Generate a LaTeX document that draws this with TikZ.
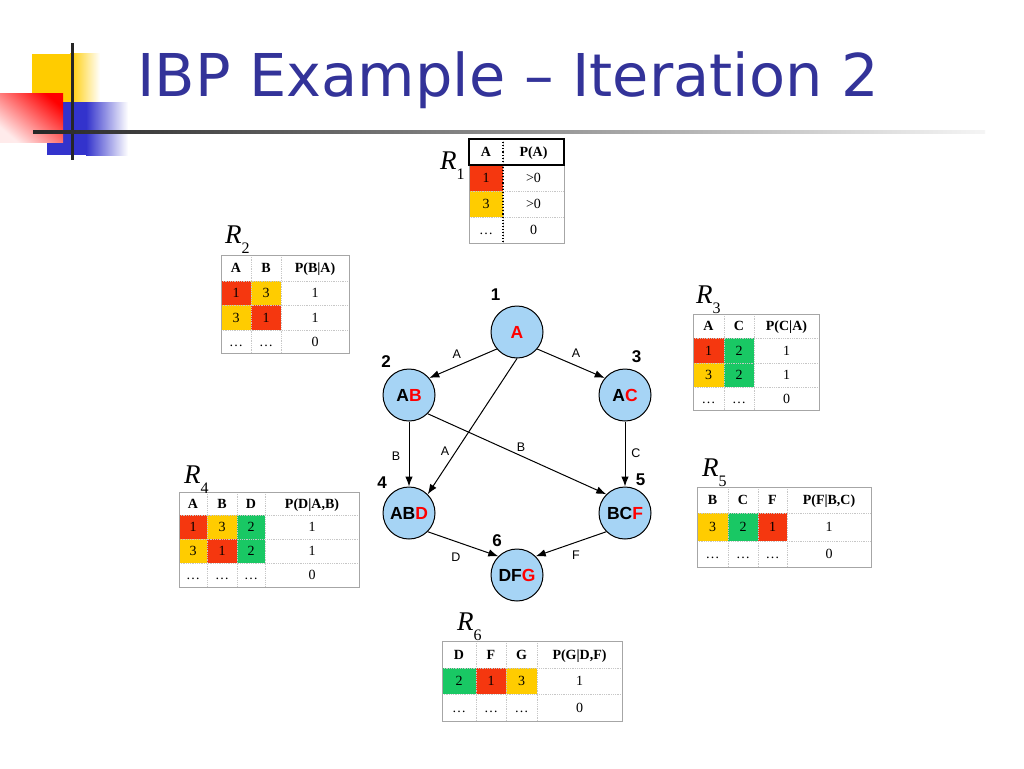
\documentclass[tikz,border=0pt]{standalone}
\usepackage{fontspec}
\setmainfont{Liberation Serif}
\setsansfont{Liberation Sans}
\newfontfamily\titlefont{DejaVu Sans}
\usepackage{tikz}
\usetikzlibrary{arrows.meta}
\definecolor{titleblue}{RGB}{51,51,153}
\definecolor{valred}{RGB}{245,55,15}
\definecolor{valyellow}{RGB}{255,204,0}
\definecolor{valgreen}{RGB}{25,200,100}
\definecolor{nodeblue}{RGB}{166,212,245}
\definecolor{logoblue}{RGB}{51,51,204}
\definecolor{logoyellow}{RGB}{255,204,0}
\tikzset{
  tabframe/.style={draw=black!35, line width=0.9pt},
  hdrframe/.style={draw=black, line width=1.3pt},
  cellline/.style={draw=black!22, densely dotted, line width=0.8pt},
  keyline/.style={draw=black, dotted, line width=1.1pt},
  redc/.style={fill=valred},        % value 1
  yelc/.style={fill=valyellow},     % value 3
  grnc/.style={fill=valgreen},      % value 2
  hdr/.style={font=\fontsize{14}{14}\selectfont\bfseries, inner sep=0pt, text height=9.5pt, text depth=0pt},
  val/.style={font=\fontsize{14}{14}\selectfont, inner sep=0pt, text height=9.5pt, text depth=0pt},
  relname/.style={anchor=base west, inner sep=0pt, font=\fontsize{27}{27}\selectfont},
  factor/.style={circle, draw, line width=1pt, fill=nodeblue, minimum size=52pt,
    inner sep=0pt, font=\sffamily\bfseries\fontsize{17.5}{17.5}\selectfont},
  stepnum/.style={font=\sffamily\bfseries\fontsize{17}{17}\selectfont, inner sep=0pt},
  edgelbl/.style={font=\sffamily\fontsize{12.5}{12.5}\selectfont, inner sep=0pt},
  msg/.style={-{Latex[length=10pt,width=7.5pt]}, line width=1pt}
}
\newcommand{\RelName}[1]{\textit{R}\raisebox{-10pt}{\fontsize{16}{16}\selectfont #1}}
\newcommand{\Hl}[1]{\textcolor{red}{#1}}
\newcommand{\FillCells}[2]{% #1=style, #2="x1/y1/x2/y2,..."
  \foreach \xa/\ya/\xb/\yb in {#2}{%
    \path[#1] (\xa,\ya) rectangle (\xb,\yb);
  }%
}
\newcommand{\TabGrid}[6]{% #1=left, #2=top, #3=right, #4=bottom, #5=inner cols, #6=inner rows
  \foreach \c in {#5}{\draw[cellline] (\c,#2) -- (\c,#4);}%
  \foreach \r in {#6}{\draw[cellline] (#1,\r) -- (#3,\r);}%
  \draw[tabframe] (#1,#2) rectangle (#3,#4);
}
\newcommand{\TabText}[3]{% #1=name prefix, #2=style, #3="x/y/text,..."
  \foreach \x/\y/\t [count=\k] in {#3}{%
    \node[#2] (#1\k) at (\x,\y) {\t};
  }%
}

\begin{document}
\begin{tikzpicture}[x=1pt, y=-1pt]
  \useasboundingbox (0,0) rectangle (1024,768);
  \fill[white] (0,0) rectangle (1024,768);
  % Logo
  \fill[logoyellow] (32,54) rectangle (70,102);
  \shade[left color=logoyellow, right color=white] (70,54) rectangle (100,102);
  \fill[logoblue] (47,102) rectangle (86,155);
  \shade[left color=logoblue, right color=white] (86,102) rectangle (128,155);
  \shade[shading=axis, top color=red, bottom color=red!8, shading angle=-40] (0,93) rectangle (63,142);
  \fill[black!85] (70.5,43) rectangle (73.5,160);
  \shade[left color=black!85, right color=black!4] (33,130.5) rectangle (985,133.5);
  % Title
  \node[anchor=base west, inner sep=0pt, text=titleblue, font=\titlefont\fontsize{59}{59}\selectfont] (title) at (137,96) {IBP Example – Iteration 2};

  % R1
  \FillCells{redc}{469/165/503/191}
  \FillCells{yelc}{469/191/503/217}
  \TabGrid{469}{139}{564}{243}{503}{191,217}
  \draw[keyline] (503,139) -- (503,243);
  \draw[hdrframe] (469,139) rectangle (564,165);
  \TabText{ra}{hdr}{486/152/A, 533.5/152/P(A)}
  \TabText{rav}{val}{486/178/1, 533.5/178/>0, 486/204/3, 533.5/204/>0, 486/230/\dots, 533.5/230/0}
  \node[relname] (lra) at (440,169) {\RelName{1}};

  % R2
  \FillCells{redc}{221/281/251/305, 251/305/281/330}
  \FillCells{yelc}{251/281/281/305, 221/305/251/330}
  \TabGrid{221}{255}{349}{353}{251,281}{281,305,330}
  \TabText{rb}{hdr}{236/268/A, 266/268/B, 315/268/P(B|A)}
  \TabText{rbv}{val}{236/293/1, 266/293/3, 315/293/1, 236/317.5/3, 266/317.5/1, 315/317.5/1, 236/341.5/\dots, 266/341.5/\dots, 315/341.5/0}
  \node[relname] (lrb) at (225,243) {\RelName{2}};

  % R3
  \FillCells{redc}{693/338/724/363}
  \FillCells{yelc}{693/363/724/387}
  \FillCells{grnc}{724/338/754/363, 724/363/754/387}
  \TabGrid{693}{314}{819}{410}{724,754}{338,363,387}
  \TabText{rc}{hdr}{708.5/326/A, 739/326/C, 786.5/326/P(C|A)}
  \TabText{rcv}{val}{708.5/350.5/1, 739/350.5/2, 786.5/350.5/1, 708.5/375/3, 739/375/2, 786.5/375/1, 708.5/398.5/\dots, 739/398.5/\dots, 786.5/398.5/0}
  \node[relname] (lrc) at (696,303) {\RelName{3}};

  % R4
  \FillCells{redc}{179/515/207/539, 207/539/237/563}
  \FillCells{yelc}{207/515/237/539, 179/539/207/563}
  \FillCells{grnc}{237/515/265/539, 237/539/265/563}
  \TabGrid{179}{492}{359}{587}{207,237,265}{515,539,563}
  \TabText{rd}{hdr}{193/503.5/A, 222/503.5/B, 251/503.5/D, {312/503.5/P(D|A,B)}}
  \TabText{rdv}{val}{193/527/1, 222/527/3, 251/527/2, 312/527/1, 193/551/3, 222/551/1, 251/551/2, 312/551/1, 193/575/\dots, 222/575/\dots, 251/575/\dots, 312/575/0}
  \node[relname] (lrd) at (184,483) {\RelName{4}};

  % R5
  \FillCells{yelc}{697/513/728/541}
  \FillCells{grnc}{728/513/758/541}
  \FillCells{redc}{758/513/787/541}
  \TabGrid{697}{487}{871}{567}{728,758,787}{513,541}
  \TabText{re}{hdr}{712.5/500/B, 743/500/C, 772.5/500/F, {829/500/P(F|B,C)}}
  \TabText{rev}{val}{712.5/527/3, 743/527/2, 772.5/527/1, 829/527/1, 712.5/554/\dots, 743/554/\dots, 772.5/554/\dots, 829/554/0}
  \node[relname] (lre) at (702,476) {\RelName{5}};

  % R6
  \FillCells{grnc}{442/668/476/694}
  \FillCells{redc}{476/668/506/694}
  \FillCells{yelc}{506/668/537/694}
  \TabGrid{442}{641}{622}{721}{476,506,537}{668,694}
  \TabText{rf}{hdr}{459/654.5/D, 491/654.5/F, 521.5/654.5/G, {579.5/654.5/P(G|D,F)}}
  \TabText{rfv}{val}{459/681/2, 491/681/1, 521.5/681/3, 579.5/681/1, 459/707.5/\dots, 491/707.5/\dots, 521.5/707.5/\dots, 579.5/707.5/0}
  \node[relname] (lrf) at (457,630) {\RelName{6}};

  % Graph
  \node[factor] (a)   at (517,332) {\Hl{A}};
  \node[factor] (ab)  at (409,395) {A\Hl{B}};
  \node[factor] (ac)  at (625,395) {A\Hl{C}};
  \node[factor] (abd) at (409,513) {AB\Hl{D}};
  \node[factor] (bcf) at (625,513) {BC\Hl{F}};
  \node[factor] (dfg) at (517,575) {DF\Hl{G}};
  % Step numbers
  \TabText{num}{stepnum}{495.7/295/1, 386/361.7/2, 636.5/356.7/3, 382/482.7/4, 640.7/479.3/5, 497/541/6}
  % Messages
  \draw[msg] (a.-140) -- (ab.40);
  \draw[msg] (a.-40) -- (ac.140);
  \draw[msg] (a.south) -- (abd.45);
  \draw[msg] (ab) -- (abd);
  \draw[msg] (ab.-45) -- (bcf.135);
  \draw[msg] (ac) -- (bcf);
  \draw[msg] (abd.-45) -- (dfg.135);
  \draw[msg] (bcf.-135) -- (dfg.45);
  \TabText{lbl}{edgelbl}{456.7/354/A, 576/352.7/A, 396/456/B, 445/450.7/A, 521/446.7/B, 636/453.3/C, 456/557.3/D, 576/555/F}
\end{tikzpicture}
\end{document}
